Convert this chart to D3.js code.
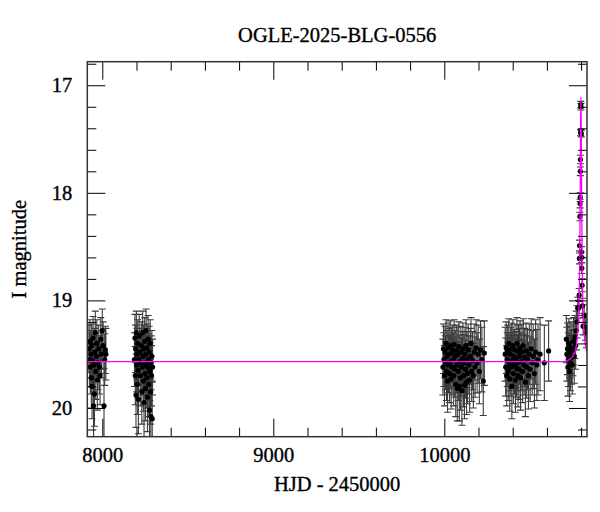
<!DOCTYPE html>
<html>
<head>
<meta charset="utf-8">
<script src="https://cdn.jsdelivr.net/npm/d3@7"></script>
<style>
    body { margin: 0; background: #fff; }
    svg text { font-family: "Liberation Serif", "Times New Roman", serif; fill: #000; stroke: #000; stroke-width: 0.35px; }
</style>
</head>
<body>
<svg id="chart" width="600" height="512"></svg>
<script>
// observations per season: [HJD - 2450000, I mag, error]
var obs2017 = [
    [7922,19.45,0.22],[7925,19.55,0.25],[7928,19.38,0.2],[7930,19.62,0.25],[7933,19.50,0.22],
    [7936,19.72,0.28],[7938,19.42,0.2],[7940,19.80,0.3],[7943,19.56,0.24],[7946,19.35,0.2],
    [7949,19.98,0.35],[7951,19.60,0.25],[7954,19.87,0.3],[7956,19.48,0.22],[7959,19.30,0.2],
    [7962,19.66,0.26],[7965,19.52,0.22],[7968,19.40,0.22],[7971,19.74,0.28],[7975,19.58,0.25],
    [7979,19.45,0.22],[7983,19.62,0.25],[7987,19.70,0.27],[7991,19.36,0.2],[7995,19.50,0.22],
    [8000,19.28,0.2],[8005,19.42,0.22],[8010,19.98,0.35],[8014,19.55,0.24],[8018,19.46,0.22],
    [8021,19.50,0.24]
];
var obs2018 = [
    [8188,19.55,0.25],[8191,19.35,0.22],[8193,19.70,0.27],[8195,19.45,0.22],[8197,19.88,0.3],
    [8199,19.30,0.2],[8201,19.60,0.25],[8203,19.50,0.24],[8205,19.78,0.28],[8207,19.40,0.22],
    [8209,19.65,0.26],[8211,19.92,0.32],[8213,19.55,0.24],[8216,19.33,0.2],[8219,19.48,0.22],
    [8222,19.70,0.28],[8225,19.58,0.25],[8228,19.42,0.22],[8231,19.85,0.3],[8234,19.62,0.26],
    [8236,19.30,0.2],[8238,19.52,0.24],[8240,19.75,0.28],[8242,19.45,0.22],[8244,19.95,0.32],
    [8246,19.60,0.25],[8248,19.38,0.22],[8250,19.68,0.27],[8252,19.82,0.3],[8254,19.50,0.24],
    [8256,19.28,0.2],[8258,19.58,0.25],[8260,19.72,0.28],[8262,19.44,0.22],[8264,19.90,0.32],
    [8266,19.62,0.26],[8268,19.36,0.22],[8270,19.55,0.24],[8272,19.78,0.3],[8274,19.48,0.24],
    [8276,20.02,0.35],[8278,19.66,0.27],[8280,19.40,0.22],[8282,19.85,0.3],[8284,20.08,0.35],
    [8286,19.58,0.25],[8288,19.70,0.28],[8290,19.52,0.24],[8292,20.10,0.35],[8294,19.62,0.26]
];
var obs2023 = [
    [9992,19.62,0.26],[9995,19.45,0.23],[9998,19.55,0.25],[10001,19.70,0.28],[10004,19.48,0.24],
    [10007,19.58,0.25],[10010,19.40,0.22],[10013,19.66,0.27],[10016,19.52,0.24],[10019,19.75,0.29],
    [10022,19.44,0.23],[10025,19.60,0.26],[10028,19.50,0.24],[10031,19.68,0.27],[10034,19.42,0.23],
    [10037,19.57,0.25],[10040,19.73,0.28],[10043,19.49,0.24],[10046,19.62,0.26],[10049,19.46,0.23],
    [10052,19.55,0.25],[10055,19.70,0.28],[10058,19.41,0.23],[10061,19.64,0.26],[10064,19.52,0.24],
    [10067,19.78,0.3],[10070,19.47,0.24],[10073,19.60,0.26],[10076,19.82,0.3],[10079,19.50,0.25],
    [10082,19.66,0.27],[10085,19.43,0.23],[10088,19.80,0.32],[10091,19.57,0.25],[10094,19.72,0.3],
    [10097,19.48,0.24],[10100,19.62,0.27],[10103,19.84,0.32],[10106,19.54,0.25],[10109,19.45,0.24],
    [10112,19.70,0.29],[10115,19.58,0.26],[10118,19.79,0.31],[10121,19.50,0.25],[10124,19.64,0.27],
    [10127,19.42,0.24],[10130,19.76,0.3],[10133,19.55,0.26],[10136,19.68,0.28],[10140,19.46,0.24],
    [10144,19.60,0.27],[10148,19.74,0.3],[10152,19.52,0.26],[10156,19.40,0.24],[10160,19.66,0.28],
    [10165,19.56,0.27],[10170,19.70,0.3],[10175,19.48,0.26],[10180,19.62,0.28],[10186,19.44,0.26],
    [10192,19.58,0.28],[10198,19.50,0.27],[10205,19.66,0.3],[10212,19.46,0.27],[10220,19.55,0.3],
    [10228,19.75,0.32],[10234,19.49,0.3]
];
var obs2024 = [
    [10356,19.50,0.25],[10359,19.62,0.27],[10362,19.44,0.24],[10365,19.70,0.28],[10368,19.55,0.25],
    [10371,19.47,0.24],[10374,19.66,0.27],[10377,19.40,0.23],[10380,19.58,0.26],[10383,19.73,0.3],
    [10386,19.50,0.25],[10389,19.62,0.27],[10392,19.45,0.24],[10395,19.80,0.3],[10398,19.56,0.26],
    [10401,19.42,0.24],[10404,19.68,0.28],[10407,19.52,0.25],[10410,19.60,0.27],[10413,19.46,0.24],
    [10416,19.74,0.3],[10419,19.55,0.26],[10422,19.63,0.27],[10425,19.40,0.24],[10428,19.58,0.26],
    [10431,19.70,0.29],[10434,19.48,0.25],[10437,19.64,0.28],[10440,19.52,0.26],[10443,19.44,0.25],
    [10446,19.72,0.3],[10450,19.57,0.27],[10454,19.48,0.26],[10458,19.66,0.29],[10462,19.42,0.25],
    [10466,19.60,0.28],[10470,19.53,0.27],[10474,19.76,0.32],[10478,19.47,0.26],[10482,19.62,0.29],
    [10487,19.55,0.28],[10492,19.70,0.31],[10497,19.50,0.28],[10502,19.64,0.3],[10508,19.45,0.28],
    [10514,19.58,0.3],[10520,19.52,0.3],[10527,19.68,0.32],[10534,19.48,0.3],[10541,19.60,0.33],
    [10548,19.55,0.33],[10560,19.50,0.34],[10585,19.58,0.35],[10610,19.47,0.28]
];
var obs2025 = [
    [10714,19.36,0.22],[10717,19.50,0.25],[10720,19.45,0.24],[10723,19.62,0.27],[10726,19.55,0.25],
    [10729,19.40,0.23],[10732,19.66,0.28],[10735,19.48,0.24],[10738,19.58,0.26],[10741,19.44,0.24],
    [10744,19.53,0.25],[10748,19.60,0.27],[10752,19.46,0.24],[10756,19.38,0.22],[10760,19.52,0.25],
    [10764,19.34,0.2],[10768,19.42,0.22],[10772,19.28,0.18],[10776,19.20,0.15],[10780,19.07,0.1],
    [10786,19.07,0.07],[10789,18.95,0.06],[10790,18.61,0.05],[10791,18.49,0.05],[10793,18.22,0.04],
    [10794,18.10,0.04],[10795,18.04,0.04],[10795.5,17.80,0.04],[10796,17.69,0.04],[10797,17.44,0.03],
    [10798,17.18,0.03],[10799,17.20,0.03],[10801,17.45,0.03],[10802,18.55,0.05],[10803,18.60,0.05],
    [10804,18.70,0.05],[10806,18.86,0.06],[10808,19.05,0.07],[10812,19.24,0.08],[10818,19.14,0.1],
    [10824,19.25,0.12],[10830,19.30,0.14]
];

// model light curve
var modelHjd = [7912, 10690, 10720, 10740, 10755, 10765, 10773, 10779, 10784, 10788, 10791, 10794,
    10796, 10797.5, 10799, 10800.5, 10802, 10804, 10807, 10810, 10815, 10822, 10834.5];
var modelMag = [19.57, 19.57, 19.56, 19.54, 19.51, 19.47, 19.41, 19.33, 19.2, 19.03, 18.75, 18.2,
    17.7, 17.3, 17.11, 17.3, 17.7, 18.2, 18.75, 19.03, 19.25, 19.38, 19.48];

var xMajor = [8000, 9000, 10000];
var yMajor = [17, 18, 19, 20];

var margin = {left: 87.3, right: 587, top: 61.7, bottom: 436.7};
var fontSize = 20.5;

var svg = d3.select("#chart");

var x = d3.scaleLinear().domain([7912.3, 10834.5]).range([margin.left, margin.right]);
var y = d3.scaleLinear().domain([16.781, 20.267]).range([margin.top, margin.bottom]);

var xMinor = d3.range(7000, 11001, 200).filter(v => v % 1000 !== 0 && v > x.domain()[0] && v < x.domain()[1]);
var yMinor = d3.range(16.8, 20.3, 0.2).map(v => +v.toFixed(1)).filter(v => v % 1 !== 0 && v < y.domain()[1]);

svg.append("defs").append("clipPath").attr("id", "plotclip")
    .append("rect")
    .attr("x", margin.left).attr("y", margin.top)
    .attr("width", margin.right - margin.left).attr("height", margin.bottom - margin.top);

var plot = svg.append("g").attr("clip-path", "url(#plotclip)");

var allObs = [].concat(obs2017, obs2018, obs2023, obs2024, obs2025);

// error bars first, then dots, model on top
var bars = plot.append("g").attr("stroke", "#3a3a3a").attr("stroke-width", 1.1).attr("fill", "none");
bars.selectAll("path").data(allObs).enter().append("path")
    .attr("d", d => {
        var cx = x(d[0]), y0 = y(d[1] - d[2]), y1 = y(d[1] + d[2]);
        return "M" + cx + "," + y0 + "V" + y1 +
            "M" + (cx - 3.5) + "," + y0 + "H" + (cx + 3.5) +
            "M" + (cx - 3.5) + "," + y1 + "H" + (cx + 3.5);
    });

plot.append("g").selectAll("circle").data(allObs).enter().append("circle")
    .attr("cx", d => x(d[0]))
    .attr("cy", d => y(d[1]))
    .attr("r", 2.6)
    .attr("fill", "#000");

var modelLine = d3.line()
    .x((d, i) => x(modelHjd[i]))
    .y(d => y(d))
    .curve(d3.curveMonotoneX);

plot.append("path")
    .attr("d", modelLine(modelMag))
    .attr("fill", "none")
    .attr("stroke", "#f0f")
    .attr("stroke-width", 1.3);

function styleAxis (g) {
    g.select(".domain").remove();
    g.attr("font-family", "Liberation Serif, Times New Roman, serif").attr("font-size", fontSize);
    g.selectAll("line").attr("stroke", "#000");
}

// bottom
svg.append("g").attr("transform", "translate(0," + margin.bottom + ")")
    .call(d3.axisBottom(x).tickValues(xMajor).tickSize(-18).tickPadding(11).tickFormat(d3.format("d")))
    .call(styleAxis);
svg.append("g").attr("transform", "translate(0," + margin.bottom + ")")
    .call(d3.axisBottom(x).tickValues(xMinor).tickSize(-9).tickFormat(""))
    .call(styleAxis);
// top
svg.append("g").attr("transform", "translate(0," + margin.top + ")")
    .call(d3.axisTop(x).tickValues(xMajor).tickSize(-18).tickFormat(""))
    .call(styleAxis);
svg.append("g").attr("transform", "translate(0," + margin.top + ")")
    .call(d3.axisTop(x).tickValues(xMinor).tickSize(-9).tickFormat(""))
    .call(styleAxis);
// left
svg.append("g").attr("transform", "translate(" + margin.left + ",0)")
    .call(d3.axisLeft(y).tickValues(yMajor).tickSize(-18).tickPadding(15).tickFormat(d3.format("d")))
    .call(styleAxis);
svg.append("g").attr("transform", "translate(" + margin.left + ",0)")
    .call(d3.axisLeft(y).tickValues(yMinor).tickSize(-9).tickFormat(""))
    .call(styleAxis);
// right
svg.append("g").attr("transform", "translate(" + margin.right + ",0)")
    .call(d3.axisRight(y).tickValues(yMajor).tickSize(-18).tickFormat(""))
    .call(styleAxis);
svg.append("g").attr("transform", "translate(" + margin.right + ",0)")
    .call(d3.axisRight(y).tickValues(yMinor).tickSize(-9).tickFormat(""))
    .call(styleAxis);

svg.append("rect")
    .attr("x", margin.left).attr("y", margin.top)
    .attr("width", margin.right - margin.left).attr("height", margin.bottom - margin.top)
    .attr("fill", "none")
    .attr("stroke", "#333")
    .attr("stroke-width", 1.5);

svg.append("text")
    .attr("x", (margin.left + margin.right) / 2).attr("y", 41.7)
    .attr("text-anchor", "middle")
    .attr("font-size", fontSize)
    .text("OGLE-2025-BLG-0556");

svg.append("text")
    .attr("x", (margin.left + margin.right) / 2).attr("y", 491)
    .attr("text-anchor", "middle")
    .attr("font-size", fontSize)
    .text("HJD - 2450000");

svg.append("text")
    .attr("transform", "translate(26," + ((margin.top + margin.bottom) / 2) + ") rotate(-90)")
    .attr("text-anchor", "middle")
    .attr("font-size", fontSize)
    .text("I magnitude");
</script>
</body>
</html>
